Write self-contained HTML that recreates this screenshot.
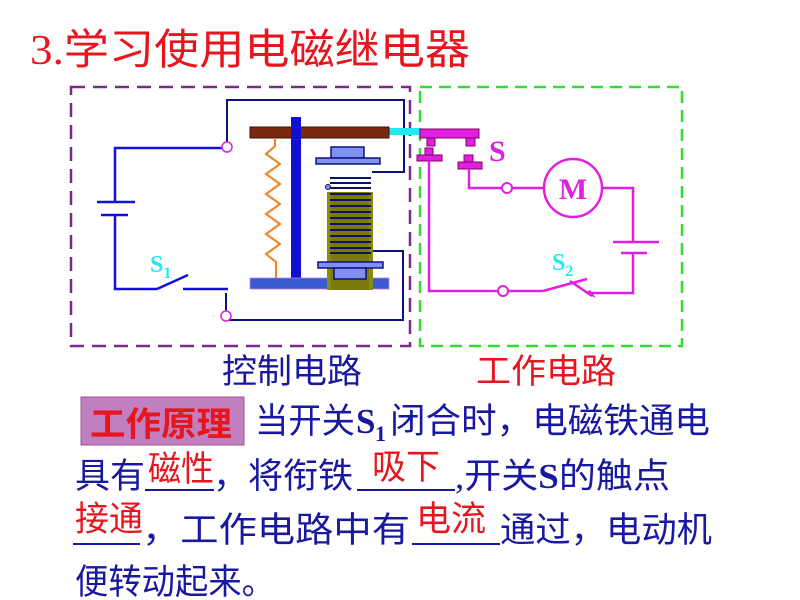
<!DOCTYPE html>
<html><head><meta charset="utf-8"><style>
html,body{margin:0;padding:0;background:#fff;}
svg{display:block}
.cn{font-family:"Liberation Serif","Noto Sans CJK SC",sans-serif;}
</style></head><body>
<svg width="800" height="600" viewBox="0 0 800 600" xmlns="http://www.w3.org/2000/svg">
<rect width="800" height="600" fill="#fff"/>
<text x="30" y="64" class="cn" font-size="42" fill="#e8141e" textLength="440" lengthAdjust="spacingAndGlyphs">3.学习使用电磁继电器</text>

<rect x="71" y="87" width="339" height="259" fill="none" stroke="#7a2a8a" stroke-width="2.5" stroke-dasharray="14,8"/>
<rect x="420" y="87" width="262" height="259" fill="none" stroke="#33dd33" stroke-width="2.5" stroke-dasharray="12,7"/>

<g fill="none" stroke="#1010e0" stroke-width="2.5">
<polyline points="222,148 115,148 115,202"/>
<line x1="97" y1="202" x2="135" y2="202"/>
<line x1="101" y1="215" x2="128" y2="215"/>
<polyline points="115,215 115,289 157,289"/>
<line x1="157" y1="289" x2="188" y2="275"/>
<line x1="183" y1="289" x2="228" y2="289"/>
</g>
<g fill="none" stroke="#101080" stroke-width="2">
<polyline points="227,142 227,100 404,100 404,172 372,172"/>
<polyline points="226,293 226,320 403,320 403,251 330,251"/>
</g>
<circle cx="227" cy="147" r="5" fill="#fff" stroke="#e020e0" stroke-width="1.5"/>
<circle cx="226" cy="316" r="5" fill="#fff" stroke="#e020e0" stroke-width="1.5"/>
<text x="150" y="272" font-family="Liberation Serif" font-weight="bold" font-size="24" fill="#22e8f0">S<tspan font-size="16" dy="6">1</tspan></text>

<rect x="389" y="128" width="32" height="7" fill="#22e8f0"/>
<rect x="250" y="127" width="139" height="11" fill="#7a2a10" stroke="#3a1008" stroke-width="1"/>
<rect x="291" y="117" width="10" height="161" fill="#1010d0"/>
<polyline points="275,138 275,146 266,154 280,164 266,174 280,184 266,194 280,204 266,214 280,224 266,234 280,244 266,254 276,262 276,278" fill="none" stroke="#f08020" stroke-width="2"/>
<rect x="250" y="278" width="139" height="11" fill="#3a5ad0" stroke="#c080e0" stroke-width="0.8"/>
<rect x="331" y="147" width="33" height="11" fill="#8090f0" stroke="#101080" stroke-width="1.5"/>
<rect x="316" y="158" width="64" height="6" fill="#8090f0" stroke="#101080" stroke-width="1.5"/>
<rect x="327" y="192" width="46" height="98" fill="#8a8a10"/>
<rect x="331" y="192" width="38" height="98" fill="#6a6a08" opacity="0.5"/>
<g stroke="#101060" stroke-width="2">
<line x1="330" y1="178" x2="371" y2="178"/><line x1="330" y1="183" x2="371" y2="183"/><line x1="330" y1="188" x2="371" y2="188"/>
<line x1="330" y1="194" x2="371" y2="194"/><line x1="330" y1="200" x2="371" y2="200"/><line x1="330" y1="206" x2="371" y2="206"/>
<line x1="330" y1="212" x2="371" y2="212"/><line x1="330" y1="218" x2="371" y2="218"/><line x1="330" y1="224" x2="371" y2="224"/>
<line x1="330" y1="230" x2="371" y2="230"/><line x1="330" y1="236" x2="371" y2="236"/><line x1="330" y1="242" x2="371" y2="242"/>
<line x1="330" y1="248" x2="371" y2="248"/><line x1="330" y1="253" x2="371" y2="253"/>
</g>
<circle cx="328" cy="187" r="2.5" fill="#8090f0" stroke="#101060"/>
<rect x="318" y="262" width="65" height="6" fill="#8090f0" stroke="#101080" stroke-width="1.5"/>
<rect x="334" y="268" width="32" height="11" fill="#8090f0" stroke="#101080" stroke-width="1.5"/>

<g fill="#e020e0" stroke="#800060" stroke-width="1">
<rect x="420" y="129" width="59" height="9"/>
<rect x="427" y="138" width="8" height="8"/>
<rect x="466" y="138" width="9" height="8"/>
<rect x="425" y="148" width="8" height="7"/>
<rect x="417" y="155" width="25" height="6"/>
<rect x="464" y="155" width="9" height="7"/>
<rect x="458" y="162" width="24" height="7"/>
</g>
<g fill="none" stroke="#e020e0" stroke-width="2.5">
<polyline points="429,161 429,291 498,291"/>
<line x1="508" y1="291" x2="543" y2="291"/>
<line x1="543" y1="291" x2="587" y2="279"/>
<line x1="570" y1="281" x2="592" y2="296"/>
<polyline points="587,293 633,293 633,253"/>
<line x1="621" y1="253" x2="647" y2="253"/>
<line x1="613" y1="242" x2="659" y2="242"/>
<polyline points="633,242 633,188 602,188"/>
<line x1="512" y1="188" x2="544" y2="188"/>
<polyline points="502,188 469,188 469,169"/>
</g>
<polygon points="585,293 596,298 590,290" fill="#e020e0"/>
<circle cx="503" cy="291" r="5" fill="#fff" stroke="#e020e0" stroke-width="2"/>
<circle cx="507" cy="188" r="5" fill="#fff" stroke="#e020e0" stroke-width="2"/>
<circle cx="573" cy="188" r="29" fill="#fff" stroke="#e020e0" stroke-width="2.5"/>
<text x="573" y="199" text-anchor="middle" font-family="Liberation Serif" font-weight="bold" font-size="30" fill="#e020e0">M</text>
<text x="489" y="161" font-family="Liberation Serif" font-weight="bold" font-size="30" fill="#e020e0">S</text>
<text x="552" y="270" font-family="Liberation Serif" font-weight="bold" font-size="24" fill="#22e8f0">S<tspan font-size="16" dy="6">2</tspan></text>

<text x="222" y="383" class="cn" font-size="34" fill="#1818a0" textLength="140" lengthAdjust="spacingAndGlyphs">控制电路</text>
<text x="476" y="383" class="cn" font-size="34" fill="#e8141e" textLength="140" lengthAdjust="spacingAndGlyphs">工作电路</text>

<rect x="81" y="397" width="163" height="48" fill="#c080c0" stroke="#a05090" stroke-width="1"/>
<text x="90" y="436" class="cn" font-size="34" font-weight="bold" fill="#e8141e" textLength="142" lengthAdjust="spacingAndGlyphs">工作原理</text>
<g class="cn" font-size="35" fill="#1818a0">
<text x="255" y="433" textLength="100" lengthAdjust="spacingAndGlyphs">当开关</text>
<text x="356" y="433" font-weight="bold" font-family="Liberation Serif">S</text>
<text x="375" y="441" font-size="22" font-weight="bold" font-family="Liberation Serif">1</text>
<text x="390" y="433" textLength="320" lengthAdjust="spacingAndGlyphs">闭合时，电磁铁通电</text>
<text x="75" y="488" textLength="70" lengthAdjust="spacingAndGlyphs">具有</text>
<text x="213" y="488" textLength="140" lengthAdjust="spacingAndGlyphs">，将衔铁</text>
<text x="455" y="488" textLength="215" lengthAdjust="spacingAndGlyphs">,开关<tspan font-weight="bold" font-family="Liberation Serif">S</tspan>的触点</text>
<text x="142" y="542" textLength="268" lengthAdjust="spacingAndGlyphs">，工作电路中有</text>
<text x="500" y="542" textLength="212" lengthAdjust="spacingAndGlyphs">通过，电动机</text>
<text x="75" y="594" textLength="200" lengthAdjust="spacingAndGlyphs">便转动起来。</text>
</g>
<g class="cn" font-size="35" fill="#e8141e">
<text x="148" y="481" textLength="66" lengthAdjust="spacingAndGlyphs">磁性</text>
<text x="372" y="479" textLength="68" lengthAdjust="spacingAndGlyphs">吸下</text>
<text x="75" y="531" textLength="68" lengthAdjust="spacingAndGlyphs">接通</text>
<text x="416" y="531" textLength="70" lengthAdjust="spacingAndGlyphs">电流</text>
</g>
<g stroke="#1818a0" stroke-width="2">
<line x1="145" y1="490" x2="214" y2="490"/>
<line x1="357" y1="490" x2="455" y2="490"/>
<line x1="73" y1="544" x2="140" y2="544"/>
<line x1="412" y1="544" x2="500" y2="544"/>
</g>
</svg>
</body></html>
